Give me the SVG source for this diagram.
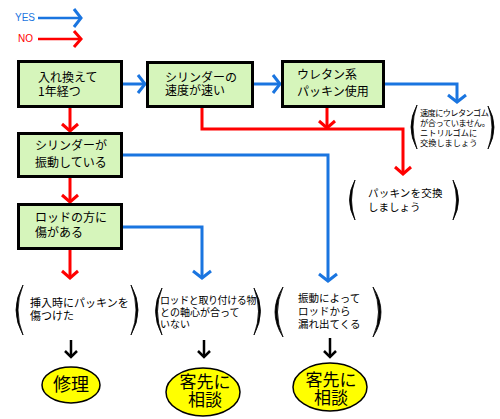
<svg xmlns="http://www.w3.org/2000/svg" width="500" height="419" viewBox="0 0 500 419">
<style>
.box{fill:#d6f5bb;stroke:#000;stroke-width:3}
.t{font-family:"Noto Sans CJK JP","Noto Sans",sans-serif;fill:#000}
.bt{font-size:12px}
.pt{font-size:10.5px}
.st{font-size:8.2px}
.et{font-size:17px;text-anchor:middle}
.blue{fill:none;stroke:#1a75e0;stroke-width:3}
.red{fill:none;stroke:#ff0000;stroke-width:3}
.blk{fill:none;stroke:#000;stroke-width:2.5}
.par{fill:#000;stroke:#000;stroke-width:0.8}
.ell{fill:#ffff00;stroke:#000;stroke-width:1.5}
.leg{font-family:"Liberation Sans",Arial,sans-serif;font-size:10px}
</style>
<defs>
<marker id="ab" markerUnits="userSpaceOnUse" viewBox="-10 -10 20 20" markerWidth="20" markerHeight="20" refX="0" refY="0" orient="auto" overflow="visible">
<path d="M-7,-9 L0,0 L-7,9" fill="none" stroke="#1a75e0" stroke-width="3"/>
</marker>
<marker id="ar" markerUnits="userSpaceOnUse" viewBox="-10 -10 20 20" markerWidth="20" markerHeight="20" refX="0" refY="0" orient="auto" overflow="visible">
<path d="M-7,-8 L0,0 L-7,8" fill="none" stroke="#ff0000" stroke-width="3"/>
</marker>
<marker id="ak" markerUnits="userSpaceOnUse" viewBox="-10 -10 20 20" markerWidth="20" markerHeight="20" refX="0" refY="0" orient="auto" overflow="visible">
<path d="M-6,-6 L0,0 L-6,6" fill="none" stroke="#000" stroke-width="2.5"/>
</marker>
</defs>

<g id="legend">
<text class="leg" x="15" y="21" fill="#1a75e0">YES</text>
<line class="blue" x1="38" y1="18" x2="81" y2="18" marker-end="url(#ab)" style="stroke-width:2.5"/>
<text class="leg" x="18" y="42" fill="#ff0000">NO</text>
<line class="red" x1="38" y1="39" x2="81" y2="39" marker-end="url(#ar)" style="stroke-width:2.5"/>
</g>

<g id="connectors">
<path class="blue" d="M123,84 H145" marker-end="url(#ab)"/>
<path class="blue" d="M254,84 H280" marker-end="url(#ab)"/>
<path class="blue" d="M385,84 H457 V102" marker-end="url(#ab)"/>
<path class="red" d="M202,108 V129 H403 V174" marker-end="url(#ar)"/>
<path class="red" d="M327,108 V128" marker-end="url(#ar)"/>
<path class="red" d="M70,108 V131" marker-end="url(#ar)"/>
<path class="red" d="M70,178 V202" marker-end="url(#ar)"/>
<path class="red" d="M70,250 V278" marker-end="url(#ar)"/>
<path class="blue" d="M123,155 H328 V281" marker-end="url(#ab)"/>
<path class="blue" d="M123,227 H202 V278" marker-end="url(#ab)"/>
<path class="blk" d="M71,340 V357" marker-end="url(#ak)"/>
<path class="blk" d="M204,340 V357" marker-end="url(#ak)"/>
<path class="blk" d="M330,338 V357" marker-end="url(#ak)"/>
</g>

<g id="n1">
<rect class="box" x="18.5" y="61.5" width="103" height="45"/>
<text class="t bt"><tspan x="38" y="82">入れ換えて</tspan><tspan x="38" y="96">1年経つ</tspan></text>
</g>
<g id="n2">
<rect class="box" x="147.5" y="62.5" width="105" height="44"/>
<text class="t bt"><tspan x="165" y="82">シリンダーの</tspan><tspan x="165" y="95">速度が速い</tspan></text>
</g>
<g id="n3">
<rect class="box" x="282.5" y="61.5" width="101" height="45"/>
<text class="t bt"><tspan x="297" y="79">ウレタン系</tspan><tspan x="297" y="96">パッキン使用</tspan></text>
</g>
<g id="n4">
<rect class="box" x="18.5" y="133.5" width="103" height="43"/>
<text class="t bt"><tspan x="35" y="150">シリンダーが</tspan><tspan x="35" y="167">振動している</tspan></text>
</g>
<g id="n5">
<rect class="box" x="18.5" y="204.5" width="103" height="44"/>
<text class="t bt"><tspan x="35" y="222">ロッドの方に</tspan><tspan x="35" y="237">傷がある</tspan></text>
</g>

<g id="c1">
<path class="par" d="M23,285 Q9,310 23,335 Q13,310 23,285 Z"/>
<path class="par" d="M131,285 Q145,310 131,335 Q141,310 131,285 Z"/>
<text class="t pt" style="font-size:11px"><tspan x="30" y="307">挿入時にパッキンを</tspan><tspan x="30" y="320">傷つけた</tspan></text>
</g>
<g id="c2">
<path class="par" d="M162,288 Q149,311 162,335 Q153,311 162,288 Z"/>
<path class="par" d="M254,288 Q267,311 254,335 Q263,311 254,288 Z"/>
<text class="t pt" style="font-size:10px"><tspan x="160" y="304" letter-spacing="-0.4">ロッドと取り付ける物</tspan><tspan x="160" y="316">との軸心が合って</tspan><tspan x="160" y="328">いない</tspan></text>
</g>
<g id="c3">
<path class="par" d="M283,287 Q267,312 283,337 Q272,312 283,287 Z"/>
<path class="par" d="M373,287 Q389,312 373,337 Q384,312 373,287 Z"/>
<text class="t pt"><tspan x="298" y="302">振動によって</tspan><tspan x="298" y="315">ロッドから</tspan><tspan x="298" y="328">漏れ出てくる</tspan></text>
</g>
<g id="c4">
<path class="par" d="M355,180 Q344,200 355,220 Q348,200 355,180 Z"/>
<path class="par" d="M453,180 Q464,200 453,220 Q460,200 453,180 Z"/>
<text class="t pt"><tspan x="368" y="197" letter-spacing="0.2">パッキンを交換</tspan><tspan x="368" y="211">しましょう</tspan></text>
</g>
<g id="c5">
<path class="par" d="M417,105 Q405,127 417,149 Q409,127 417,105 Z"/>
<path class="par" d="M488,106 Q500,127 488,149 Q496,127 488,106 Z"/>
<text class="t st"><tspan x="420" y="116" letter-spacing="-0.6">速度にウレタンゴム</tspan><tspan x="420" y="126" letter-spacing="-0.4">が合っていません。</tspan><tspan x="420" y="136">ニトリルゴムに</tspan><tspan x="420" y="146">交換しましょう</tspan></text>
</g>

<g id="e1">
<ellipse class="ell" cx="71" cy="385" rx="29" ry="18"/>
<text class="t et" x="71" y="391" style="font-size:18px">修理</text>
</g>
<g id="e2">
<ellipse class="ell" cx="203" cy="392" rx="37" ry="24"/>
<text class="t et"><tspan x="205" y="388">客先に</tspan><tspan x="205" y="406">相談</tspan></text>
</g>
<g id="e3">
<ellipse class="ell" cx="330" cy="387" rx="37" ry="24"/>
<text class="t et"><tspan x="331" y="386">客先に</tspan><tspan x="331" y="404">相談</tspan></text>
</g>
</svg>
